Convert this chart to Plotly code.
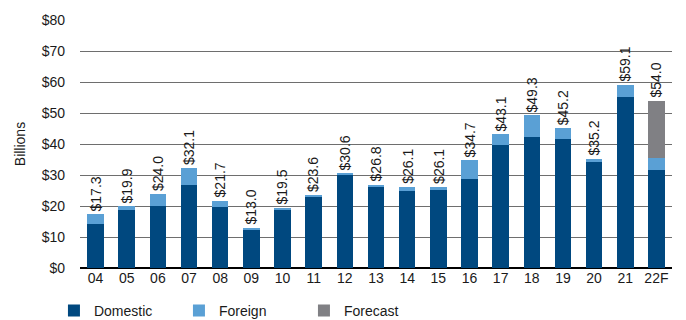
import plotly.graph_objects as go

years = ["04", "05", "06", "07", "08", "09", "10", "11", "12", "13", "14", "15", "16", "17", "18", "19", "20", "21", "22F"]
domestic = [14.3, 18.6, 20.1, 26.9, 19.6, 12.2, 18.9, 23.1, 30.2, 26.3, 24.7, 25.3, 28.8, 39.6, 42.2, 41.5, 34.3, 55.3, 31.6]
foreign = [3.0, 1.3, 3.9, 5.2, 2.1, 0.8, 0.6, 0.5, 0.4, 0.5, 1.4, 0.8, 5.9, 3.5, 7.1, 3.7, 0.9, 3.8, 4.0]
forecast = [0, 0, 0, 0, 0, 0, 0, 0, 0, 0, 0, 0, 0, 0, 0, 0, 0, 0, 18.4]
totals = [17.3, 19.9, 24.0, 32.1, 21.7, 13.0, 19.5, 23.6, 30.6, 26.8, 26.1, 26.1, 34.7, 43.1, 49.3, 45.2, 35.2, 59.1, 54.0]
total_labels = ["$%.1f" % v for v in totals]

FONT = "Liberation Sans, Arial, sans-serif"

fig = go.Figure()
fig.add_bar(x=years, y=domestic, name="Domestic", marker=dict(color="#00487F", line=dict(width=0)))
fig.add_bar(x=years, y=foreign, name="Foreign", marker=dict(color="#5AA0D5", line=dict(width=0)))
fig.add_bar(x=years, y=forecast, name="Forecast", marker=dict(color="#808084", line=dict(width=0)))

for i, (t, lab) in enumerate(zip(totals, total_labels)):
    fig.add_annotation(x=i, y=t, xref="x", yref="y", text=lab, textangle=-90, showarrow=False,
                       yanchor="bottom", xanchor="center", yshift=1,
                       font=dict(family=FONT, size=14, color="#1a1a1a"))

fig.update_layout(
    width=686, height=320,
    margin=dict(l=80, r=14, t=20, b=52, autoexpand=False),
    barmode="stack", bargap=0.47,
    plot_bgcolor="white", paper_bgcolor="white",
    font=dict(family=FONT, size=14, color="#1a1a1a"),
    showlegend=True,
    legend=dict(orientation="h", x=-0.044, xanchor="left", y=-0.108, yanchor="top",
                entrywidth=80, entrywidthmode="pixels",
                font=dict(family=FONT, size=14, color="#1a1a1a"), traceorder="normal"),
    xaxis=dict(type="category", showline=False, ticks="", tickfont=dict(size=14)),
    yaxis=dict(range=[0, 80], dtick=10, tickprefix="$", showgrid=True,
               gridcolor="#6e6e6e", gridwidth=1.2, zeroline=True, zerolinecolor="#000000",
               zerolinewidth=1.5, ticks="", ticklabelstandoff=14,
               title=dict(text="Billions", font=dict(size=14), standoff=12)),
)

fig.write_html("out.html")
